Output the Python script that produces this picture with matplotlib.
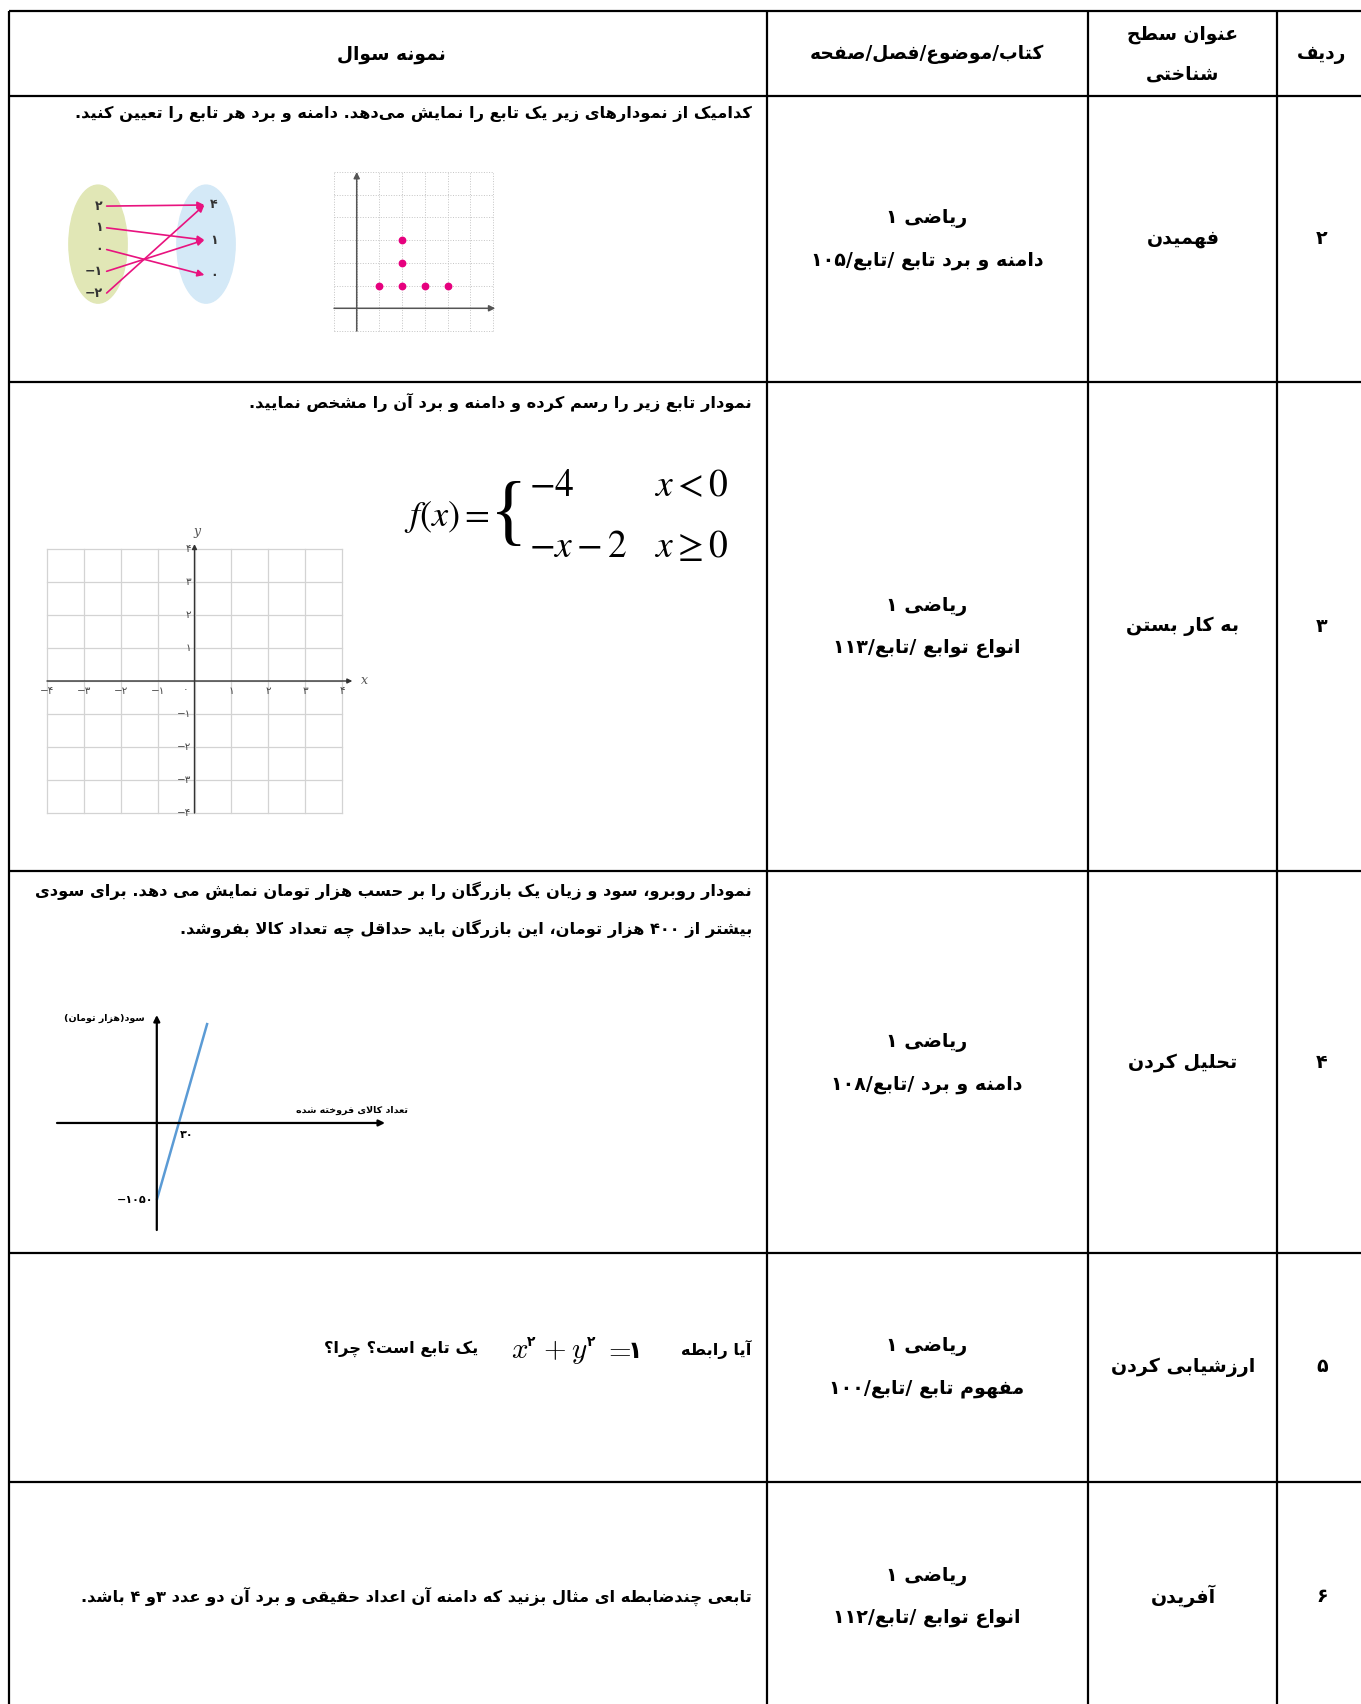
import matplotlib
matplotlib.use('Agg')
import matplotlib.pyplot as plt
from matplotlib.patches import Ellipse
from matplotlib import font_manager as fm
from matplotlib.ft2font import FT2Font

W, H = 1361, 1704

# ------------------------------------------------------------------ data
header_row = 'ردیف'
header_level = ['عنوان سطح', 'شناختی']
header_book = 'کتاب/موضوع/فصل/صفحه'
header_question = 'نمونه سوال'

row_numbers = ['۲', '۳', '۴', '۵', '۶']
levels = ['فهمیدن', 'به کار بستن', 'تحلیل کردن', 'ارزشیابی کردن', 'آفریدن']
books = ['ریاضی ۱', 'ریاضی ۱', 'ریاضی ۱', 'ریاضی ۱', 'ریاضی ۱']
topics = ['دامنه و برد تابع /تابع/۱۰۵', 'انواع توابع /تابع/۱۱۳',
          'دامنه و برد /تابع/۱۰۸', 'مفهوم تابع /تابع/۱۰۰', 'انواع توابع /تابع/۱۱۲']

q2_text = 'کدامیک از نمودارهای زیر یک تابع را نمایش می\u200cدهد. دامنه و برد هر تابع را تعیین کنید.'
q3_text = 'نمودار تابع زیر را رسم کرده و دامنه و برد آن را مشخص نمایید.'
q4_lines = ['نمودار روبرو، سود و زیان یک بازرگان را بر حسب هزار تومان نمایش می دهد. برای سودی',
            'بیشتر از ۴۰۰ هزار تومان، این بازرگان باید حداقل چه تعداد کالا بفروشد.']
q5_before = 'آیا رابطه'
q5_after = 'یک تابع است؟ چرا؟'
q6_text = 'تابعی چندضابطه ای مثال بزنید که دامنه آن اعداد حقیقی و برد آن دو عدد ۳و ۴ باشد.'

# mapping diagram (row 2)
map_domain = [2, 1, 0, -1, -2]
map_codomain = [4, 1, 0]
map_pairs = [(2, 4), (1, 1), (0, 0), (-1, 1), (-2, 4)]

# dot graph (row 2)
dots_x = [1, 2, 3, 4, 2, 2]
dots_y = [1, 1, 1, 1, 2, 3]
dots_grid = [-1, 0, 1, 2, 3, 4, 5, 6]

# empty coordinate plane (row 3)
plane_ticks = [-4, -3, -2, -1, 0, 1, 2, 3, 4]

# profit chart (row 4)
profit_x = [0, 69]
profit_y = [-1050, 1365]
profit_root = 30
profit_intercept = -1050
profit_ylabel = 'سود(هزار تومان)'
profit_xlabel = 'تعداد کالای فروخته شده'

# ------------------------------------------------------------------ persian shaping
_dual = {'\u0626': 0xFE89, '\u0628': 0xFE8F, '\u062A': 0xFE95, '\u062B': 0xFE99,
         '\u062C': 0xFE9D, '\u062D': 0xFEA1, '\u062E': 0xFEA5, '\u0633': 0xFEB1,
         '\u0634': 0xFEB5, '\u0635': 0xFEB9, '\u0636': 0xFEBD, '\u0637': 0xFEC1,
         '\u0638': 0xFEC5, '\u0639': 0xFEC9, '\u063A': 0xFECD, '\u0641': 0xFED1,
         '\u0642': 0xFED5, '\u0643': 0xFED9, '\u0644': 0xFEDD, '\u0645': 0xFEE1,
         '\u0646': 0xFEE5, '\u0647': 0xFEE9, '\u064A': 0xFEF1, '\u067E': 0xFB56,
         '\u0686': 0xFB7A, '\u06A9': 0xFB8E, '\u06AF': 0xFB92, '\u06CC': 0xFBFC}
_right = {'\u0622': 0xFE81, '\u0623': 0xFE83, '\u0624': 0xFE85, '\u0625': 0xFE87,
          '\u0627': 0xFE8D, '\u0629': 0xFE93, '\u062F': 0xFEA9, '\u0630': 0xFEAB,
          '\u0631': 0xFEAD, '\u0632': 0xFEAF, '\u0648': 0xFEED, '\u0649': 0xFEEF,
          '\u0698': 0xFB8A}
FORMS = {}
for c, b in _dual.items():
    FORMS[c] = (b, b + 1, b + 2, b + 3)
for c, b in _right.items():
    FORMS[c] = (b, b + 1, None, None)
LAMALEF = {'\u0627': (0xFEFB, 0xFEFC), '\u0622': (0xFEF5, 0xFEF6),
           '\u0623': (0xFEF7, 0xFEF8), '\u0625': (0xFEF9, 0xFEFA)}
MIRROR = {'(': ')', ')': '(', '[': ']', ']': '['}


def _joins_next(c):
    return c in FORMS and FORMS[c][2] is not None


def shape(s):
    out = []
    n = len(s)
    i = 0
    while i < n:
        c = s[i]
        if c not in FORMS:
            if c != '\u200c':
                out.append(c)
            i += 1
            continue
        prev = s[i - 1] if i > 0 else None
        jp = prev is not None and _joins_next(prev)
        if c == '\u0644' and i + 1 < n and s[i + 1] in LAMALEF:
            lig = LAMALEF[s[i + 1]]
            out.append(chr(lig[1] if jp else lig[0]))
            i += 2
            continue
        nxt = s[i + 1] if i + 1 < n else None
        jn = _joins_next(c) and nxt is not None and nxt in FORMS
        f = FORMS[c]
        if jp and jn:
            g = f[3]
        elif jp:
            g = f[1]
        elif jn:
            g = f[2]
        else:
            g = f[0]
        out.append(chr(g))
        i += 1
    return ''.join(out)


def V(s):
    sh = shape(s)
    runs = []
    for ch in sh:
        ltr = ch.isdigit() or ('a' <= ch.lower() <= 'z')
        if runs and runs[-1][0] == ltr:
            runs[-1][1].append(ch)
        else:
            runs.append([ltr, [ch]])
    out = []
    for ltr, chs in reversed(runs):
        if ltr:
            out.extend(chs)
        else:
            out.extend(MIRROR.get(c, c) for c in reversed(chs))
    return ''.join(out)


def fa_num(v):
    return str(v).translate(str.maketrans('0123456789-', '۰۱۲۳۴۵۶۷۸۹−'))


def _has(path, cps):
    try:
        cm = FT2Font(path).get_charmap()
        return all(c in cm for c in cps)
    except Exception:
        return False


_bold = fm.findfont(fm.FontProperties(family='DejaVu Sans', weight='bold'))
FW = 'bold' if _has(_bold, [0xFB8E, 0xFEFB, 0x06F4, 0xFBFC, 0xFEE3]) else 'normal'
FA = 'DejaVu Sans'

# ------------------------------------------------------------------ figure
fig = plt.figure(figsize=(W / 100, H / 100), dpi=100)
ax = fig.add_axes([0, 0, 1, 1])
ax.set_xlim(0, W)
ax.set_ylim(H, 0)
ax.set_axis_off()
renderer = fig.canvas.get_renderer()


def width_of(s, size):
    t = ax.text(0, 0, s, fontsize=size, family=FA, weight=FW)
    w = t.get_window_extent(renderer).width
    t.remove()
    return w


def fit(s, target):
    return 12 * target / width_of(s, 12)


q_size = min(fit(V(q2_text), 703), fit(V(q4_lines[0]), 714),
             fit(V(q3_text), 505), fit(V(q6_text), 692))
mid_size = fit(V(topics[0]), 223) * 1.04
head_size = fit(V(header_book), 225) * 1.04

# table grid
col_x = [9, 767, 1088, 1277]
row_y = [11, 96, 382, 871, 1253, 1482]
for y in row_y:
    ax.plot([col_x[0], W], [y, y], color='black', lw=1.6, solid_capstyle='butt')
for x in col_x:
    ax.plot([x, x], [row_y[0], H], color='black', lw=1.6, solid_capstyle='butt')


def T(x, y, s, size, ha='center', **kw):
    ax.text(x, y, V(s), fontsize=size, family=FA, weight=FW, ha=ha, va='center', **kw)


# header
T(391, 54, header_question, head_size)
T(927, 54, header_book, head_size)
T(1183, 34, header_level[0], head_size)
T(1183, 74, header_level[1], head_size)
T(1322, 54, header_row, head_size)

# body columns
centers = [239, 626, 1062, 1367, 1596]
for yc, num, lev, bk, tp in zip(centers, row_numbers, levels, books, topics):
    T(1322, yc, num, mid_size)
    T(1183, yc, lev, mid_size)
    T(927, yc - 20, bk, mid_size)
    T(927, yc + 22, tp, mid_size)

# questions
QR = 752
T(QR, 114, q2_text, q_size, ha='right')
T(QR, 402, q3_text, q_size, ha='right')
T(QR, 891, q4_lines[0], q_size, ha='right')
T(QR, 929, q4_lines[1], q_size, ha='right')
T(QR, 1349, q5_before, q_size, ha='right')
T(478, 1349, q5_after, q_size, ha='right')
T(QR, 1596, q6_text, q_size, ha='right')

# x^2 + y^2 = 1
ms = dict(math_fontfamily='cm', fontsize=21, va='baseline', ha='left')
base = 1358
ax.text(511, base, r'$x$', **ms)
ax.text(527, base - 12, '۲', fontsize=10, family=FA, weight=FW, va='baseline')
ax.text(543, base, r'$+$', **ms)
ax.text(571, base, r'$y$', **ms)
ax.text(587, base - 12, '۲', fontsize=10, family=FA, weight=FW, va='baseline')
ax.text(603, base, r'$=$', **ms)
ax.text(628, base, '۱', fontsize=17, family=FA, weight=FW, va='baseline')

# piecewise formula
fs = dict(math_fontfamily='stix', fontsize=27, va='center', ha='left')
brace = ax.text(527, 517, '{', fontsize=56, family='Liberation Serif', va='center', ha='right')
bx0 = brace.get_window_extent(renderer).x0
ax.text(bx0, 517, r'$f(x)=$', math_fontfamily='stix', fontsize=26, va='center', ha='right')
ax.text(529, 486, r'$-4$', **fs)
ax.text(529, 547, r'$-x-2$', **fs)
ax.text(654, 486, r'$x<0$', **fs)
ax.text(654, 547, r'$x\geq 0$', **fs)


def inset(x0, y0, x1, y1):
    a = fig.add_axes([x0 / W, 1 - y1 / H, (x1 - x0) / W, (y1 - y0) / H])
    a.set_axis_off()
    return a


# ---------------- mapping diagram
PINK = '#e8137f'
am = inset(60, 180, 245, 310)
am.set_xlim(-0.352, 1.361)
am.set_ylim(4.78, -1.2)
dom_pos = {v: i for i, v in enumerate(map_domain)}
cod_pos = {v: -0.05 + j * 1.61 for j, v in enumerate(map_codomain)}
am.add_patch(Ellipse((0, 1.75), 0.54, 5.43, color='#e1e7b6', zorder=0))
am.add_patch(Ellipse((1, 1.75), 0.54, 5.43, color='#d4e9f7', zorder=0))
for v in map_domain:
    am.text(0.045, dom_pos[v], fa_num(v), fontsize=9, family=FA, weight=FW,
            ha='right', va='center', color='#333333')
for v in map_codomain:
    am.text(1.07, cod_pos[v], fa_num(v), fontsize=9, family=FA, weight=FW,
            ha='center', va='center', color='#333333')
for a_, b_ in map_pairs:
    am.annotate('', xy=(0.985, cod_pos[b_]), xytext=(0.08, dom_pos[a_]),
                arrowprops=dict(arrowstyle='-|>', color=PINK, lw=1.2,
                                mutation_scale=10, shrinkA=0, shrinkB=0))

# ---------------- dot graph
ad = inset(334, 172, 493, 331)
ad.set_xlim(dots_grid[0], dots_grid[-1])
ad.set_ylim(dots_grid[0], dots_grid[-1])
for g in dots_grid:
    ad.axvline(g, color='#c4c4c4', lw=0.7, ls=':', clip_on=False)
    ad.axhline(g, color='#c4c4c4', lw=0.7, ls=':', clip_on=False)
ad.annotate('', xy=(dots_grid[-1] + 0.1, 0), xytext=(dots_grid[0], 0),
            arrowprops=dict(arrowstyle='-|>', color='#555555', lw=1.1,
                            mutation_scale=9, shrinkA=0, shrinkB=0), annotation_clip=False)
ad.annotate('', xy=(0, dots_grid[-1]), xytext=(0, dots_grid[0]),
            arrowprops=dict(arrowstyle='-|>', color='#555555', lw=1.1,
                            mutation_scale=9, shrinkA=0, shrinkB=0), annotation_clip=False)
ad.plot(dots_x, dots_y, 'o', color='#e6007e', ms=4.6, clip_on=False, zorder=5)

# ---------------- coordinate plane
ap = inset(47, 549, 342, 813)
ap.set_xlim(plane_ticks[0], plane_ticks[-1])
ap.set_ylim(plane_ticks[0], plane_ticks[-1])
for t in plane_ticks:
    ap.axvline(t, color='#d3d3d3', lw=0.9, clip_on=False)
    ap.axhline(t, color='#d3d3d3', lw=0.9, clip_on=False)
ap.annotate('', xy=(plane_ticks[-1] + 0.28, 0), xytext=(plane_ticks[0], 0),
            arrowprops=dict(arrowstyle='-|>', color='#333333', lw=1.0,
                            mutation_scale=7, shrinkA=0, shrinkB=0), annotation_clip=False)
ap.annotate('', xy=(0, plane_ticks[-1] + 0.15), xytext=(0, plane_ticks[0]),
            arrowprops=dict(arrowstyle='-|>', color='#333333', lw=1.0,
                            mutation_scale=7, shrinkA=0, shrinkB=0), annotation_clip=False)
for t in plane_ticks:
    if t == 0:
        ap.annotate(fa_num(t), (t, 0), xytext=(-6, -8), textcoords='offset pixels',
                    fontsize=7.5, family=FA, ha='right', va='center', color='#444444')
        continue
    ap.annotate(fa_num(t), (t, 0), xytext=(0, -10), textcoords='offset pixels',
                fontsize=7.5, family=FA, ha='center', va='center', color='#444444',
                annotation_clip=False)
    ap.annotate(fa_num(t), (0, t), xytext=(-3, 0), textcoords='offset pixels',
                fontsize=7.5, family=FA, ha='right', va='center', color='#444444',
                annotation_clip=False)
ap.annotate('x', (plane_ticks[-1], 0), xytext=(22, 1), textcoords='offset pixels',
            fontsize=9, family='DejaVu Serif', style='italic', color='#555555',
            ha='center', va='center', annotation_clip=False)
ap.annotate('y', (0, plane_ticks[-1]), xytext=(3, 18), textcoords='offset pixels',
            fontsize=9, family='DejaVu Serif', style='italic', color='#555555',
            ha='center', va='center', annotation_clip=False)

# ---------------- profit chart
ar = inset(57, 1015, 385, 1230)
ar.set_xlim(-136, 311)
ar.set_ylim(-1460, 1473)
ar.annotate('', xy=(311, 0), xytext=(-136, 0),
            arrowprops=dict(arrowstyle='-|>', color='black', lw=1.6,
                            mutation_scale=9, shrinkA=0, shrinkB=0), annotation_clip=False)
ar.annotate('', xy=(0, 1473), xytext=(0, -1460),
            arrowprops=dict(arrowstyle='-|>', color='black', lw=1.6,
                            mutation_scale=9, shrinkA=0, shrinkB=0), annotation_clip=False)
ar.plot(profit_x, profit_y, color='#5b9bd5', lw=1.8, solid_capstyle='butt')
ar.annotate(fa_num(profit_root), (profit_root, 0), xytext=(8, -12), textcoords='offset pixels',
            fontsize=8, family=FA, weight=FW, ha='center', va='center')
ar.annotate(fa_num(profit_intercept), (0, profit_intercept), xytext=(-3, 0),
            textcoords='offset pixels', fontsize=8, family=FA, weight=FW,
            ha='right', va='center')
ar.annotate(V(profit_ylabel), (0, 1473), xytext=(-12, -3), textcoords='offset pixels',
            fontsize=6.8, family=FA, weight=FW, ha='right', va='center',
            annotation_clip=False)
ar.annotate(V(profit_xlabel), (311, 0), xytext=(23, 13), textcoords='offset pixels',
            fontsize=6.8, family=FA, weight=FW, ha='right', va='center',
            annotation_clip=False)

fig.savefig('out.png', dpi=100)
